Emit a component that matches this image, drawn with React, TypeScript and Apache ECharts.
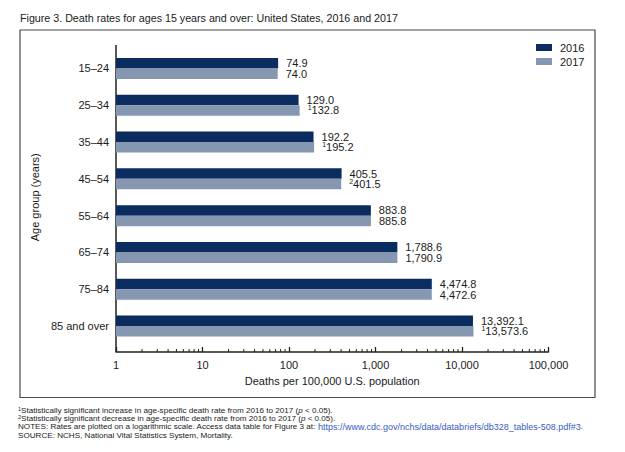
import React, { useEffect, useRef } from "react";
import * as echarts from "echarts";

const categories = ["15–24", "25–34", "35–44", "45–54", "55–64", "65–74", "75–84", "85 and over"];
const rates2016 = [74.9, 129.0, 192.2, 405.5, 883.8, 1788.6, 4474.8, 13392.1];
const rates2017 = [74.0, 132.8, 195.2, 401.5, 885.8, 1790.9, 4472.6, 13573.6];
const marks2017 = ["", "1", "1", "2", "", "", "", "1"];
const xTickLabels = ["1", "10", "100", "1,000", "10,000", "100,000"];
const minorTickValues: number[] = [];
[1, 10, 100, 1000, 10000].forEach((d) => {
  [2, 3, 4, 5, 6, 7, 8, 9].forEach((m) => minorTickValues.push(m * d));
});

const FONT = "'Liberation Sans', Arial, Helvetica, sans-serif";
const NAVY = "#0b2c5e";
const STEEL = "#8597b1";
const INK = "#1a1a1a";
const FN = 8.1;

const fmt = (v: number) =>
  v.toLocaleString("en-US", { minimumFractionDigits: 1, maximumFractionDigits: 1 });

export default function App() {
  const ref = useRef<HTMLDivElement>(null);
  useEffect(() => {
    if (!ref.current) return;
    const chart = echarts.init(ref.current, null, { renderer: "svg" });
    const AXIS_OFFSET = 7.5;
    const fnRich = {
      s: { fontSize: 5.5, padding: [0, 0, 3, 0], fontFamily: FONT, color: INK, fill: INK },
      i: { fontStyle: "italic", fontSize: FN, fontFamily: FONT, color: INK, fill: INK },
      t: { fontSize: FN, fontFamily: FONT, color: INK, fill: INK },
      u: { fontSize: 9, fontFamily: FONT, color: "#3b5bc4", fill: "#3b5bc4" },
    };
    const option: any = {
      animation: false,
      backgroundColor: "#ffffff",
      textStyle: { fontFamily: FONT },
      title: {
        text: "Figure 3. Death rates for ages 15 years and over: United States, 2016 and 2017",
        left: 20,
        top: 12,
        padding: 0,
        textStyle: { fontFamily: FONT, fontSize: 10.7, fontWeight: "normal", color: INK },
      },
      legend: {
        orient: "vertical",
        left: 531,
        top: 37,
        itemWidth: 16,
        itemHeight: 7,
        itemGap: 3,
        icon: "rect",
        data: ["2016", "2017"],
        textStyle: { fontFamily: FONT, fontSize: 11, color: INK, padding: [0, 0, 0, 3] },
      },
      grid: { left: 116, right: 76.5, top: 50, height: 294.5, containLabel: false },
      xAxis: {
        type: "log",
        logBase: 10,
        min: 1,
        max: 100000,
        offset: AXIS_OFFSET,
        axisLine: { show: true, lineStyle: { color: "#222", width: 1.5 } },
        axisTick: { show: true, inside: true, length: 5, lineStyle: { color: "#222", width: 1.3 } },
        splitLine: { show: false },
        axisLabel: {
          fontFamily: FONT,
          fontSize: 11,
          color: INK,
          margin: 7,
          formatter: (v: number) => {
            const i = Math.round(Math.log10(v));
            return xTickLabels[i] ?? String(v);
          },
        },
        name: "Deaths per 100,000 U.S. population",
        nameLocation: "middle",
        nameGap: 23,
        nameTextStyle: { fontFamily: FONT, fontSize: 11, color: INK },
      },
      yAxis: {
        type: "category",
        data: categories,
        inverse: true,
        axisLine: { show: false },
        axisTick: { show: false },
        axisLabel: { fontFamily: FONT, fontSize: 11, color: INK, margin: 7 },
        name: "Age group (years)",
        nameLocation: "middle",
        nameRotate: 90,
        nameGap: 67,
        nameTextStyle: { fontFamily: FONT, fontSize: 11, color: INK },
      },
      series: [
        {
          name: "2016",
          type: "bar",
          data: rates2016,
          barWidth: 10.5,
          barGap: "0%",
          itemStyle: { color: NAVY },
          label: {
            show: true,
            position: "right",
            distance: 8,
            fontFamily: FONT,
            fontSize: 11,
            color: INK,
            formatter: (p: any) => fmt(p.value),
          },
        },
        {
          name: "2017",
          type: "bar",
          data: rates2017,
          barWidth: 10.5,
          barGap: "0%",
          itemStyle: { color: STEEL },
          label: {
            show: true,
            position: "right",
            distance: 8,
            fontFamily: FONT,
            fontSize: 11,
            color: INK,
            formatter: (p: any) => {
              const m = marks2017[p.dataIndex];
              return (m ? "{sup|" + m + "}" : "") + "{v|" + fmt(p.value) + "}";
            },
            rich: {
              sup: { fontFamily: FONT, fontSize: 7, color: INK, padding: [0, 0, 5, 0] },
              v: { fontFamily: FONT, fontSize: 11, color: INK },
            },
          },
        },
        {
          type: "custom",
          name: "axes",
          silent: true,
          clip: false,
          data: minorTickValues.map((v) => [v]),
          encode: { x: 0 },
          renderItem: (params: any, api: any) => {
            const cs = params.coordSys;
            const x = api.coord([api.value(0), 0])[0];
            const yb = cs.y + cs.height + AXIS_OFFSET;
            const children: any[] = [
              {
                type: "line",
                shape: { x1: x, y1: yb, x2: x, y2: yb - 3 },
                style: { stroke: "#222", lineWidth: 1 },
              },
            ];
            if (params.dataIndex === 0) {
              children.push({
                type: "line",
                shape: { x1: cs.x, y1: cs.y - 5, x2: cs.x, y2: yb },
                style: { stroke: "#222", lineWidth: 1.5 },
              });
            }
            return { type: "group", children };
          },
        },
      ],
      graphic: [
        {
          type: "rect",
          shape: { x: 20, y: 30, width: 575, height: 367.5 },
          style: { fill: "none", stroke: "#4a4a4a", lineWidth: 1.2 },
          silent: true,
        },
        {
          type: "text",
          left: 18,
          top: 405.5,
          style: {
            text: "{s|1}{t|Statistically significant increase in age-specific death rate from 2016 to 2017 (}{i|p}{t| < 0.05).}",
            fontFamily: FONT,
            fontSize: FN,
            fill: INK,
            rich: fnRich,
          },
        },
        {
          type: "text",
          left: 18,
          top: 413.8,
          style: {
            text: "{s|2}{t|Statistically significant decrease in age-specific death rate from 2016 to 2017 (}{i|p}{t| < 0.05).}",
            fontFamily: FONT,
            fontSize: FN,
            fill: INK,
            rich: fnRich,
          },
        },
        {
          type: "text",
          left: 18,
          top: 422.2,
          style: {
            text: "{t|NOTES: Rates are plotted on a logarithmic scale. Access data table for Figure 3 at: }{u|https://www.cdc.gov/nchs/data/databriefs/db328_tables-508.pdf#3}{t|.}",
            fontFamily: FONT,
            fontSize: FN,
            fill: INK,
            rich: fnRich,
          },
        },
        {
          type: "text",
          left: 18,
          top: 431,
          style: {
            text: "SOURCE: NCHS, National Vital Statistics System, Mortality.",
            fontFamily: FONT,
            fontSize: FN,
            fill: INK,
          },
        },
      ],
    };
    chart.setOption(option);
    return () => chart.dispose();
  }, []);
  return (
    <div
      ref={ref}
      style={{ position: "fixed", left: 0, top: 0, width: 625, height: 452, background: "#fff" }}
    />
  );
}
